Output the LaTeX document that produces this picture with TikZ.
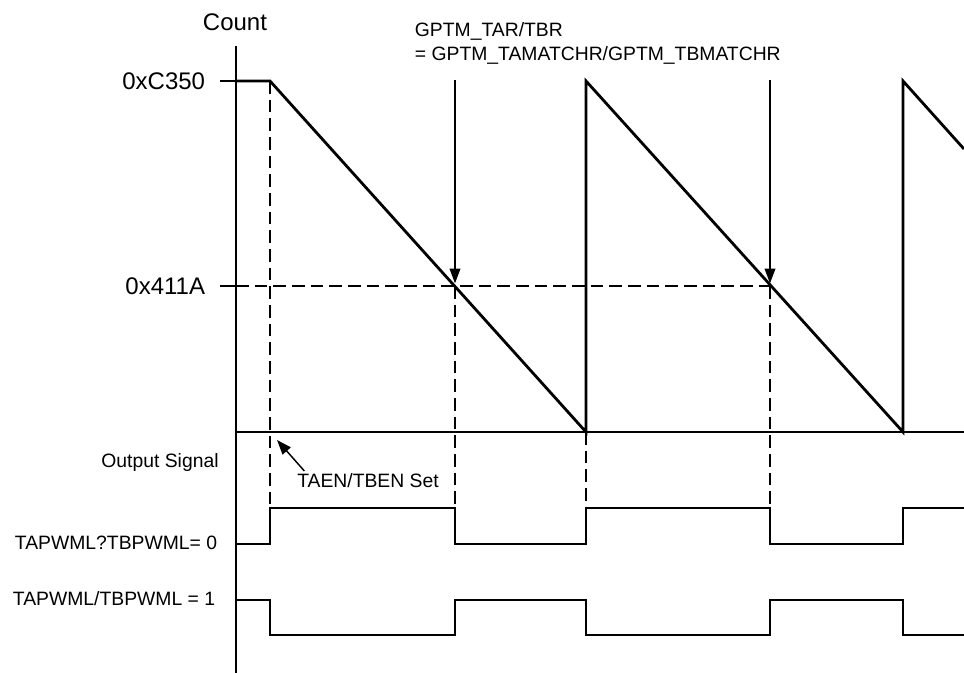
\documentclass[tikz,border=0pt]{standalone}
\usepackage{fontspec}
\setmainfont{Liberation Sans}
\usetikzlibrary{arrows.meta,positioning,calc}

\begin{document}
\begin{tikzpicture}[x=0.75pt, y=-0.75pt,
    every node/.style={font=\fontsize{14.5}{18}\selectfont, inner sep=2pt},
    biglbl/.style={font=\fontsize{18}{21}\selectfont},
    axisline/.style={line width=1.1pt},
    wave/.style={line width=2.1pt, line join=miter},
    guide/.style={line width=1.1pt, dash pattern=on 9.5pt off 4.5pt},
    ptr/.style={line width=1.1pt, -{Triangle[length=11pt,width=8pt]}}]
    \useasboundingbox (0,0) rectangle (964,673);
    % Axes
    \draw[axisline] (236,46) -- (236,673);
    \draw[axisline] (236,432) -- (964,432);
    \node[biglbl] (count) at (235,22) {Count};
    \node[biglbl, anchor=east] (top) at (208,81) {0xC350};
    \node[biglbl, anchor=east] (match) at (208,286) {0x411A};
    \draw[axisline] (220,81) -- (236,81);
    \draw[axisline] (220,286) -- (236,286);
    % Points in time
    \coordinate (en) at (270,81);
    \coordinate (m1) at (455,286);
    \coordinate (z1) at (586,432);
    \coordinate (m2) at (770,286);
    \coordinate (z2) at (903,432);
    % Guide lines
    \draw[guide] (236,286) -- (m2);
    \draw[guide] (en) -- (270,508);
    \foreach \p in {m1,z1,m2} {
      \draw[guide] (\p) -- (\p |- 0,508);
    }
    % Counter
    \draw[wave] (236,81) -- (en) -- (z1) -- (586,81) -- (z2) -- (903,81) -- (964,149);
    % Match arrows
    \node[anchor=north west, align=left] (gptm) at (412,20) {GPTM\_TAR/TBR\\= GPTM\_TAMATCHR/GPTM\_TBMATCHR};
    \coordinate (a1) at (455,80);
    \coordinate (a2) at (770,80);
    \draw[ptr, shorten >=2pt] (a1) -- (m1);
    \draw[ptr, shorten >=2pt] (a2) -- (m2);
    % Enable
    \node (taen) at (368,481) {TAEN/TBEN Set};
    \coordinate (entip) at (277,440);
    \draw[ptr] ([shift={(10,0)}]taen.north west) -- (entip);
    % Output signals
    \node (outsig) at (160,463) {Output Signal};
    \node[anchor=east] (pwml0) at (220,543) {TAPWML?TBPWML= 0};
    \node[anchor=east] (pwml1) at (218,599) {TAPWML/TBPWML = 1};
    \draw[wave] (236,544) -- (270,544) -- (270,508) -- (455,508) -- (455,544) -- (586,544)
      -- (586,508) -- (770,508) -- (770,544) -- (903,544) -- (903,508) -- (964,508);
    \draw[wave] (236,600) -- (270,600) -- (270,635) -- (455,635) -- (455,600) -- (586,600)
      -- (586,635) -- (770,635) -- (770,600) -- (903,600) -- (903,635) -- (964,635);
\end{tikzpicture}
\end{document}
